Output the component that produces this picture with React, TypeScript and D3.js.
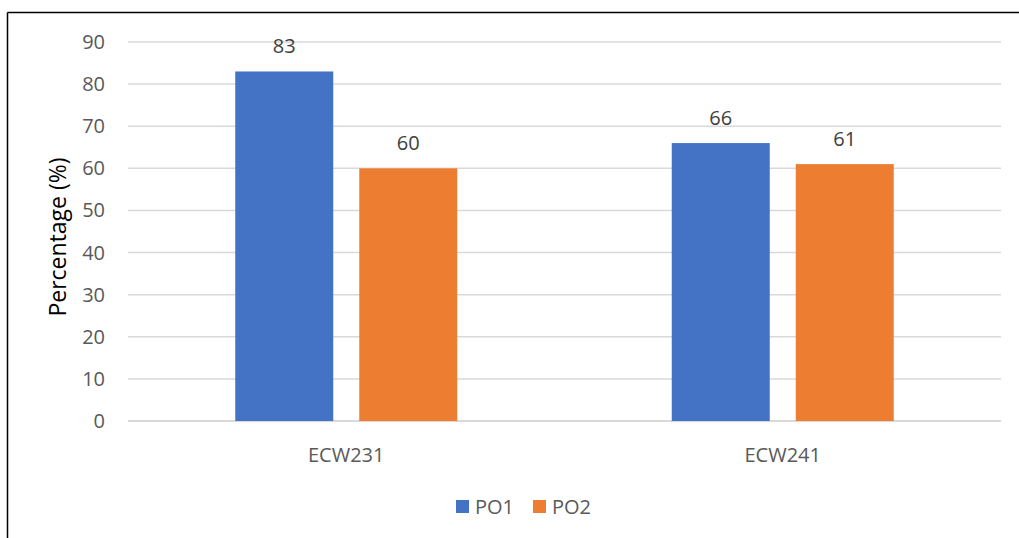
import React from "react";
import * as d3 from "d3";

const categories = ["ECW231", "ECW241"];
const seriesNames = ["PO1", "PO2"];
const po1Values = [83, 66];
const po2Values = [60, 61];
const yTicks = [0, 10, 20, 30, 40, 50, 60, 70, 80, 90];
const colors = ["#4472C4", "#ED7D31"];

export default function App() {
  const W = 1019, H = 538;
  const left = 128, right = 1001, top = 42, bottom = 421;
  const x = d3.scaleBand<string>().domain(categories).range([left, right]).paddingInner(0).paddingOuter(0);
  const y = d3.scaleLinear().domain([0, 90]).range([bottom, top]);
  const barW = 98, gap = 26;
  const series = [po1Values, po2Values];
  const font = "'Open Sans', 'Liberation Sans', sans-serif";
  return (
    <svg width={W} height={H} style={{ position: "absolute", left: 0, top: 0 }} fontFamily={font}>
      <rect x={0} y={0} width={W} height={H} fill="#fff" />
      <line x1={7.5} y1={12.5} x2={W} y2={12.5} stroke="#000" strokeWidth={1.5} />
      <line x1={7.5} y1={12.5} x2={7.5} y2={H} stroke="#000" strokeWidth={1.5} />
      {yTicks.map((t) => (
        <g key={t}>
          <line x1={left} x2={right} y1={y(t)} y2={y(t)} stroke="#D9D9D9" strokeWidth={t === 0 ? 2 : 1.5} />
          <text x={105} y={y(t)} dy="0.35em" textAnchor="end" fontSize={20} fill="#595959">{t}</text>
        </g>
      ))}
      {categories.map((c, ci) => {
        const cx = (x(c) as number) + x.bandwidth() / 2;
        return (
          <g key={c}>
            {series.map((s, si) => {
              const bx = cx - gap / 2 - barW + si * (barW + gap);
              return (
                <g key={si}>
                  <rect x={bx} y={y(s[ci])} width={barW} height={bottom - y(s[ci])} fill={colors[si]} />
                  <text x={bx + barW / 2} y={y(s[ci]) - 25} dy="0.35em" textAnchor="middle" fontSize={20} fill="#404040">{s[ci]}</text>
                </g>
              );
            })}
            <text x={cx} y={455} dy="0.35em" textAnchor="middle" fontSize={20} fill="#595959">{c}</text>
          </g>
        );
      })}
      <text transform="translate(58,237) rotate(-90)" dy="0.35em" textAnchor="middle" fontSize={23} fill="#000">Percentage (%)</text>
      {seriesNames.map((n, i) => {
        const lx = 456 + i * 77;
        return (
          <g key={n}>
            <rect x={lx} y={500} width={13} height={13} fill={colors[i]} />
            <text x={lx + 19} y={507} dy="0.35em" fontSize={20} fill="#595959">{n}</text>
          </g>
        );
      })}
    </svg>
  );
}
